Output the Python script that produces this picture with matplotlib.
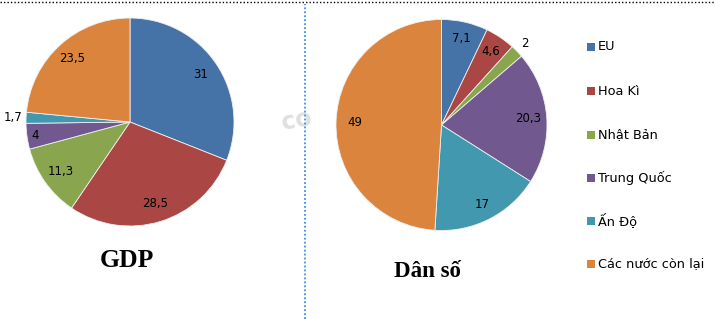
import matplotlib
matplotlib.use("Agg")
import matplotlib.pyplot as plt
import numpy as np
from matplotlib.lines import Line2D
from matplotlib.patches import Rectangle

categories = ["EU", "Hoa Kì", "Nhật Bản", "Trung Quốc", "Ấn Độ", "Các nước còn lại"]
gdp_values = [31, 28.5, 11.3, 4, 1.7, 23.5]
pop_values = [7.1, 4.6, 2, 20.3, 17, 49]
gdp_labels = ["31", "28,5", "11,3", "4", "1,7", "23,5"]
pop_labels = ["7,1", "4,6", "2", "20,3", "17", "49"]
titles = ["GDP", "Dân số"]

colors = ["#4572A7", "#AA4643", "#89A54E", "#71588F", "#4198AF", "#DB843D"]
# label radius (fraction of pie radius) per slice, layout only
gdp_label_r = [0.82, 0.82, 0.82, 0.92, 1.13, 0.82]
pop_label_r = [0.84, 0.84, 1.10, 0.82, 0.85, 0.82]

W, H = 715, 319
fig = plt.figure(figsize=(W / 100, H / 100), dpi=100)
fig.patch.set_facecolor("white")


def px_axes(cx, cy, r):
    return fig.add_axes([(cx - r) / W, 1 - (cy + r) / H, 2 * r / W, 2 * r / H])


def draw_pie(ax, values, labels, lab_r):
    wedges, _ = ax.pie(values, colors=colors, startangle=90, counterclock=False,
                       radius=1.0, wedgeprops=dict(edgecolor="#f0f0f0", linewidth=0.6))
    for w, lab, lr in zip(wedges, labels, lab_r):
        ang = np.deg2rad((w.theta1 + w.theta2) / 2)
        ax.text(lr * np.cos(ang), lr * np.sin(ang), lab, ha="center", va="center",
                fontsize=8.5, color="#000000", family="DejaVu Sans")
    ax.set_xlim(-1.0, 1.0)
    ax.set_ylim(-1.0, 1.0)
    ax.set_aspect("equal")
    ax.axis("off")


ax1 = px_axes(130, 122, 104)
draw_pie(ax1, gdp_values, gdp_labels, gdp_label_r)
ax2 = px_axes(441.5, 125, 105.5)
draw_pie(ax2, pop_values, pop_labels, pop_label_r)

# titles
fig.text(127 / W, 1 - 267 / H, titles[0], ha="center", va="baseline",
         fontsize=18.5, fontweight="bold", family="Liberation Serif")
fig.text(428 / W, 1 - 277 / H, titles[1], ha="center", va="baseline",
         fontsize=16.5, fontweight="bold", family="Liberation Serif")

# legend
row_y = [47, 91, 135, 178, 221, 264]
for c, name, y in zip(colors, categories, row_y):
    fig.add_artist(Rectangle((587 / W, 1 - (y + 4) / H), 8 / W, 8 / H,
                             transform=fig.transFigure, facecolor=c, edgecolor="none"))
    fig.text(598 / W, 1 - y / H, name, ha="left", va="center", fontsize=9.3,
             family="DejaVu Sans", color="#000000")

# frame decorations
fig.add_artist(Line2D([0, 1], [1 - 2 / H, 1 - 2 / H], transform=fig.transFigure,
                      color="black", linestyle=(0, (1, 1.5)), linewidth=1.0))
fig.add_artist(Line2D([304.5 / W, 304.5 / W], [0, 1 - 4 / H], transform=fig.transFigure,
                      color="#3d8fe8", linestyle=(0, (1, 1.2)), linewidth=1.3))

# watermark
fig.text(297 / W, 1 - 120 / H, "co", ha="center", va="center", fontsize=17,
         fontweight="bold", color="#e0e0e0", rotation=10, family="DejaVu Sans", zorder=0)

fig.savefig("out.png", dpi=100)
